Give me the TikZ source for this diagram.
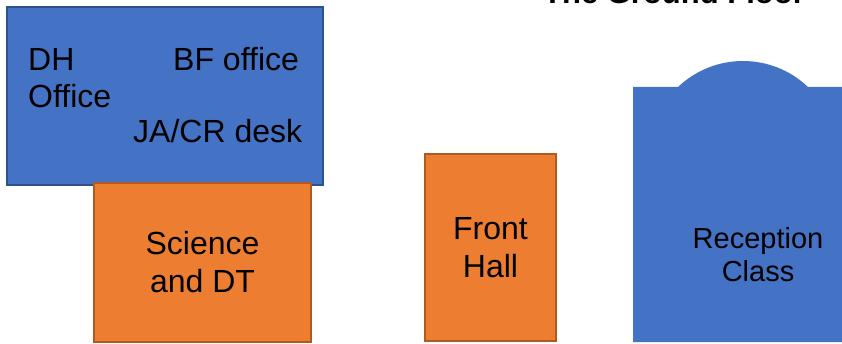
\documentclass[tikz,border=0pt]{standalone}
\usepackage{fontspec}
\setmainfont{Liberation Sans}
\usetikzlibrary{positioning}
\definecolor{roomblue}{HTML}{4472C4}
\definecolor{roomblueline}{HTML}{2F528F}
\definecolor{roomorange}{HTML}{ED7D31}
\definecolor{roomorangeline}{HTML}{AE5A21}
\tikzstyle{bluebox} = [rectangle, draw=roomblueline, fill=roomblue, line width=2pt, inner sep=0pt]
\tikzstyle{orangebox} = [rectangle, draw=roomorangeline, fill=roomorange, line width=2pt,
    align=center, inner sep=0pt, font=\fontsize{32}{38}\selectfont]
\tikzstyle{roomlabel} = [inner sep=0pt, anchor=base west, font=\fontsize{32}{37}\selectfont]

\begin{document}
\begin{tikzpicture}[x=1pt, y=1pt]
    \useasboundingbox (0,0) rectangle (842,343);
    % Place rooms
    \node [bluebox, minimum width=316pt, minimum height=178pt] (office) at (165,247) {};
    \node [orangebox, minimum width=217pt, minimum height=159pt] (science) at (202.5,80.5) {Science\\and DT};
    \node [orangebox, minimum width=131pt, minimum height=186pt] (hall) at (490.5,95.5) {Front\\Hall};
    % the reception class with its rounded top
    \fill [roomblue] (633,1) -- (633,256) -- (678,256)
        arc [start angle=133.6, end angle=46.4, radius=94.25] -- (850,256) -- (850,1) -- cycle;
    \node [align=center, inner sep=0pt, font=\fontsize{29}{33}\selectfont] (reception) at (758,88) {Reception\\Class};
    % the labels in the office block
    \node [roomlabel] (dh) at (28,272) {DH};
    \node [roomlabel, below=37pt of dh.base west, anchor=base west] (dhoffice) {Office};
    \node [roomlabel] (bf) at (173,272) {BF office};
    \node [roomlabel] (jacr) at (133,200) {JA/CR desk};
    % the title, cut at the top
    \node [inner sep=0pt, anchor=base, font=\fontsize{31}{36}\bfseries] (title) at (674,339) {The Ground Floor};
\end{tikzpicture}
\end{document}
